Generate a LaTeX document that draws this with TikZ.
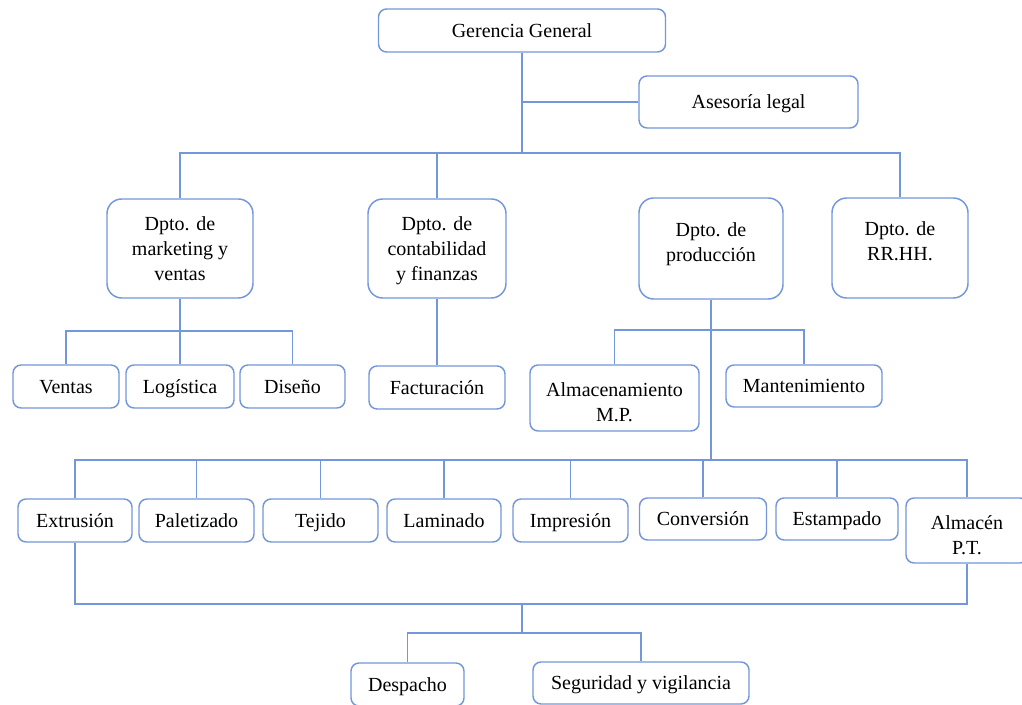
\documentclass[tikz,border=0pt]{standalone}
\usepackage{fontspec}
\setmainfont{Liberation Serif}
\usepackage{tikz}
\usetikzlibrary{positioning}
\definecolor{azul}{RGB}{116,150,218}

\begin{document}
\begin{tikzpicture}[x=0.75pt, y=-0.75pt,
    font=\fontsize{15}{19}\selectfont,
    caja/.style={draw=azul, line width=1.1pt, rounded corners=6pt, align=center, inner sep=0pt, fill=white},
    simple/.style={caja, text height=13pt, text depth=3pt},
    doble/.style={caja, text height=36pt, text depth=0pt},
    dpto/.style={caja, rounded corners=11pt},
    linea/.style={draw=azul, line width=1.1pt}]
    \useasboundingbox (0,0) rectangle (1022,705);

    \node[simple, minimum width=287*0.75pt, minimum height=43*0.75pt] (gg) at (522,30.5) {Gerencia General};
    \node[simple, minimum width=219*0.75pt, minimum height=52*0.75pt] (legal) at (748.5,102) {Asesoría legal};

    \node[dpto, minimum width=146*0.75pt, minimum height=99*0.75pt] (mkt) at (180,248.5) {Dpto. de\\marketing y\\ventas};
    \node[dpto, minimum width=138*0.75pt, minimum height=99*0.75pt, text depth=0pt] (cont) at (437,248.5) {Dpto. de\\contabilidad\\y finanzas};
    \node[dpto, minimum width=144*0.75pt, minimum height=101*0.75pt, text depth=10pt] (prod) at (711,248.5) {Dpto. de\\producción};
    \node[dpto, minimum width=136*0.75pt, minimum height=100*0.75pt, text depth=10pt] (rrhh) at (900,248) {Dpto. de\\RR.HH.};

    \node[simple, minimum width=106*0.75pt, minimum height=43*0.75pt] (ventas) at (66,386.5) {Ventas};
    \node[simple, minimum width=108*0.75pt, minimum height=43*0.75pt] (logis) at (180,386.5) {Logística};
    \node[simple, minimum width=105*0.75pt, minimum height=43*0.75pt] (diseno) at (292.5,386.5) {Diseño};
    \node[simple, minimum width=136*0.75pt, minimum height=43*0.75pt] (fact) at (437,387.5) {Facturación};
    \node[doble, minimum width=169*0.75pt, minimum height=66*0.75pt] (almmp) at (614.5,398) {Almacenamiento\\M.P.};
    \node[simple, minimum width=156*0.75pt, minimum height=42*0.75pt] (mant) at (804,386) {Mantenimiento};

    \node[simple, minimum width=114*0.75pt, minimum height=43*0.75pt] (extr) at (75,520.5) {Extrusión};
    \node[simple, minimum width=115*0.75pt, minimum height=43*0.75pt] (palet) at (196.5,520.5) {Paletizado};
    \node[simple, minimum width=115*0.75pt, minimum height=43*0.75pt] (tejido) at (320.5,520.5) {Tejido};
    \node[simple, minimum width=114*0.75pt, minimum height=43*0.75pt] (lamin) at (444,520.5) {Laminado};
    \node[simple, minimum width=115*0.75pt, minimum height=43*0.75pt] (impr) at (570.5,520.5) {Impresión};
    \node[simple, minimum width=127*0.75pt, minimum height=42*0.75pt] (conv) at (703,519) {Conversión};
    \node[simple, minimum width=122*0.75pt, minimum height=42*0.75pt] (estamp) at (837,519) {Estampado};
    \node[doble, minimum width=122*0.75pt, minimum height=65*0.75pt] (almpt) at (967,530.5) {Almacén\\P.T.};

    \node[simple, minimum width=113*0.75pt, minimum height=43*0.75pt] (desp) at (407.5,684.5) {Despacho};
    \node[simple, minimum width=216*0.75pt, minimum height=42*0.75pt] (seg) at (641,683) {Seguridad y vigilancia};

    \coordinate (nivel1) at (522,153);
    \coordinate (nivel2) at (180,331);
    \coordinate (nivel3) at (711,330);
    \coordinate (nivel4) at (711,460);
    \coordinate (nivel5) at (522,604);
    \coordinate (nivel6) at (522,633);

    \draw[linea] (gg.south) -- (gg.south |- nivel1);
    \draw[linea] (legal.west) -- (legal.west -| gg.south);
    \draw[linea] (mkt.north) |- (nivel1) -| (rrhh.north);
    \draw[linea] (cont.north) -- (cont.north |- nivel1);

    \draw[linea] (mkt.south) -- (logis.north);
    \draw[linea] (ventas.north) |- (nivel2) -| (diseno.north);
    \draw[linea] (cont.south) -- (fact.north);

    \draw[linea] (prod.south) -- (nivel4);
    \draw[linea] (almmp.north) |- (nivel3) -| (mant.north);

    \draw[linea] (extr.north) |- (nivel4) -| (almpt.north);
    \draw[linea] (palet.north) -- (palet.north |- nivel4);
    \draw[linea] (tejido.north) -- (tejido.north |- nivel4);
    \draw[linea] (lamin.north) -- (lamin.north |- nivel4);
    \draw[linea] (impr.north) -- (impr.north |- nivel4);
    \draw[linea] (conv.north) -- (conv.north |- nivel4);
    \draw[linea] (estamp.north) -- (estamp.north |- nivel4);

    \draw[linea] (extr.south) |- (nivel5) -| (almpt.south);
    \draw[linea] (nivel5) -- (nivel6);
    \draw[linea] (desp.north) |- (nivel6) -| (seg.north);
\end{tikzpicture}
\end{document}
